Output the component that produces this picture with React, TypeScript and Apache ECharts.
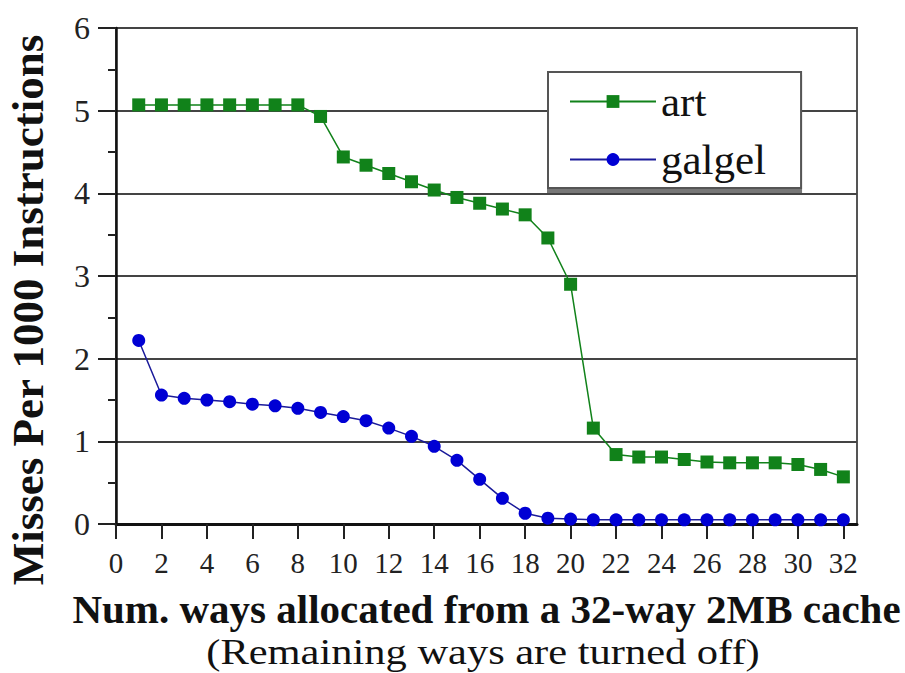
import React, { useEffect, useRef } from "react";
import * as echarts from "echarts";

const ways = [1, 2, 3, 4, 5, 6, 7, 8, 9, 10, 11, 12, 13, 14, 15, 16, 17, 18, 19, 20, 21, 22, 23, 24, 25, 26, 27, 28, 29, 30, 31, 32];
const art = [5.07, 5.07, 5.07, 5.07, 5.07, 5.07, 5.07, 5.07, 4.93, 4.44, 4.34, 4.24, 4.14, 4.04, 3.95, 3.88, 3.81, 3.74, 3.46, 2.9, 1.16, 0.84, 0.81, 0.81, 0.78, 0.75, 0.74, 0.74, 0.74, 0.72, 0.66, 0.57];
const galgel = [2.22, 1.56, 1.52, 1.5, 1.48, 1.45, 1.43, 1.4, 1.35, 1.3, 1.25, 1.16, 1.06, 0.94, 0.77, 0.54, 0.31, 0.13, 0.07, 0.06, 0.05, 0.05, 0.05, 0.05, 0.05, 0.05, 0.05, 0.05, 0.05, 0.05, 0.05, 0.05];
const xTicks = [0, 2, 4, 6, 8, 10, 12, 14, 16, 18, 20, 22, 24, 26, 28, 30, 32];
const xTitle = "Num. ways allocated from a 32-way 2MB cache";
const xSubtitle = "(Remaining ways are turned off)";
const yTitle = "Misses Per 1000 Instructions";

const FONT = "'Liberation Serif', 'Times New Roman', serif";

export default function App() {
  const ref = useRef<HTMLDivElement>(null);
  useEffect(() => {
    if (!ref.current) return;
    const chart = echarts.init(ref.current, null, { renderer: "svg" });
    chart.setOption({
      animation: false,
      backgroundColor: "#ffffff",
      textStyle: { fontFamily: FONT },
      grid: {
        left: 116,
        right: 48,
        top: 28,
        bottom: 149,
        show: true,
        borderColor: "#555",
        borderWidth: 2,
        backgroundColor: "transparent",
      },
      legend: {
        left: 548,
        top: 72,
        orient: "vertical",
        backgroundColor: "#ffffff",
        borderColor: "#555",
        borderWidth: 2,
        shadowColor: "#777",
        shadowOffsetY: 4,
        shadowBlur: 0,
        padding: [8, 35, 7, 21],
        itemGap: 15,
        itemWidth: 86,
        itemHeight: 16,
        itemTextGap: 14,
        textStyle: { fontFamily: FONT, fontSize: 43, color: "#111" },
        data: ["art", "galgel"],
      },
      xAxis: {
        type: "value",
        min: 0,
        max: 32.6,
        interval: 2,
        name: xTitle,
        nameLocation: "middle",
        nameGap: 64,
        nameTextStyle: { fontFamily: FONT, fontSize: 41, fontWeight: "bold", color: "#111" },
        axisLine: { show: true, lineStyle: { color: "#111", width: 3 } },
        axisTick: { show: true, length: 15, customValues: xTicks, lineStyle: { color: "#222", width: 2 } },
        axisLabel: { customValues: xTicks, fontFamily: FONT, fontSize: 29, color: "#222", margin: 24 },
        splitLine: { show: false },
      },
      yAxis: {
        type: "value",
        min: 0,
        max: 6,
        interval: 1,
        axisLine: { show: true, lineStyle: { color: "#111", width: 2.5 } },
        axisTick: { show: true, length: 18, lineStyle: { color: "#222", width: 2 } },
        minorTick: { show: true, splitNumber: 2, length: 8, lineStyle: { color: "#222", width: 2 } },
        axisLabel: { fontFamily: FONT, fontSize: 32, color: "#222", margin: 26 },
        splitLine: { show: true, lineStyle: { color: "#444", width: 2 } },
      },
      graphic: [
        {
          type: "text",
          x: 28,
          y: 310,
          rotation: Math.PI / 2,
          style: {
            text: yTitle,
            fontFamily: FONT,
            fontSize: 45,
            fontWeight: "bold",
            fill: "#111",
            align: "center",
            verticalAlign: "middle",
          },
        },
        {
          type: "text",
          x: 483,
          y: 652,
          scaleX: 1.18,
          style: {
            text: xSubtitle,
            fontFamily: FONT,
            fontSize: 36,
            fill: "#111",
            align: "center",
            verticalAlign: "middle",
          },
        },
      ],
      series: [
        {
          name: "art",
          type: "line",
          data: ways.map((w, i) => [w, art[i]]),
          symbol: "rect",
          symbolSize: 13,
          itemStyle: { color: "#11821a" },
          lineStyle: { color: "#11821a", width: 1.5 },
          z: 3,
        },
        {
          name: "galgel",
          type: "line",
          data: ways.map((w, i) => [w, galgel[i]]),
          symbol: "circle",
          symbolSize: 13,
          itemStyle: { color: "#0000d4" },
          lineStyle: { color: "#1a1a9a", width: 1.5 },
          z: 3,
        },
      ],
    });
    return () => chart.dispose();
  }, []);
  return (
    <div
      ref={ref}
      style={{ position: "fixed", left: 0, top: 0, width: 905, height: 673, background: "#fff" }}
    />
  );
}
